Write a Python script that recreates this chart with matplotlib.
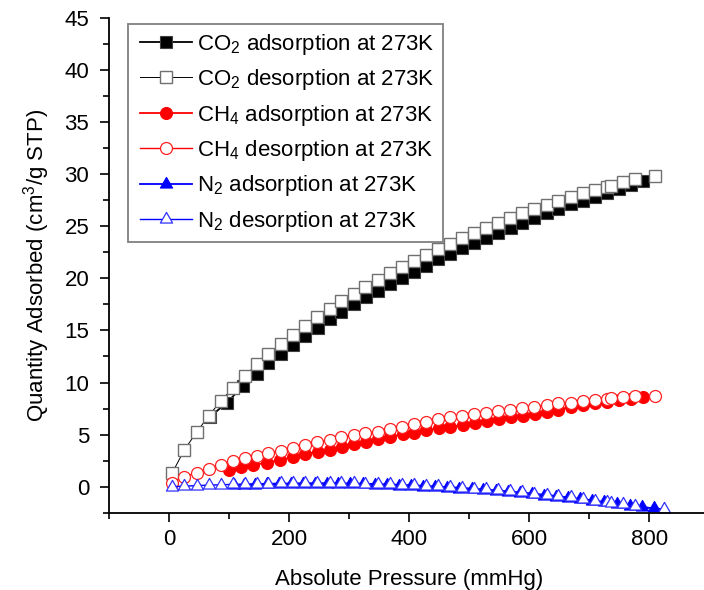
import matplotlib
matplotlib.use("Agg")
import matplotlib.pyplot as plt
from matplotlib.ticker import MultipleLocator
from matplotlib.legend_handler import HandlerLine2D
from matplotlib.path import Path

plt.rcParams['font.family'] = ['Liberation Sans', 'DejaVu Sans']
plt.rcParams['mathtext.fontset'] = 'custom'
plt.rcParams['mathtext.rm'] = 'Liberation Sans'
plt.rcParams['mathtext.it'] = 'Liberation Sans:italic'
plt.rcParams['mathtext.bf'] = 'Liberation Sans:bold'

# ---------------- data ----------------
x_des = [5, 25, 46, 66, 86, 106, 126, 146, 165, 186, 206, 226, 246, 267, 286,
         307, 326, 348, 368, 387, 408, 428, 447, 468, 487, 508, 527, 548, 568,
         588, 608, 629, 648, 669, 690, 709, 729, 736, 756, 776, 810]
co2_des = [1.34, 3.52, 5.28, 6.82, 8.26, 9.45, 10.63, 11.75, 12.74, 13.70, 14.57,
           15.46, 16.32, 17.09, 17.83, 18.50, 19.20, 19.85, 20.49, 21.13, 21.70,
           22.25, 22.79, 23.27, 23.85, 24.33, 24.81, 25.29, 25.77, 26.25, 26.63,
           27.05, 27.46, 27.85, 28.20, 28.50, 28.81, 28.90, 29.23, 29.52, 29.84]

x_co2_ads = [68, 96, 123, 146, 165, 186, 206, 226, 247, 267, 286, 307, 328, 347,
             368, 387, 408, 428, 447, 468, 488, 508, 527, 548, 569, 588, 608, 629,
             648, 669, 690, 709, 729, 750, 770, 790]
co2_ads = [6.72, 8.07, 9.67, 10.82, 11.85, 12.74, 13.60, 14.47, 15.26, 16.07, 16.80,
           17.54, 18.24, 18.82, 19.43, 20.07, 20.64, 21.22, 21.86, 22.34, 22.89,
           23.37, 23.91, 24.39, 24.87, 25.35, 25.77, 26.25, 26.63, 27.11, 27.43,
           27.79, 28.23, 28.55, 28.97, 29.38]

ch4_des = [0.38, 0.96, 1.34, 1.70, 2.08, 2.47, 2.73, 2.95, 3.26, 3.46, 3.70, 4.00,
           4.32, 4.48, 4.80, 4.96, 5.13, 5.28, 5.51, 5.76, 6.05, 6.24, 6.50, 6.66,
           6.79, 6.95, 7.10, 7.27, 7.36, 7.53, 7.68, 7.88, 8.00, 8.07, 8.23, 8.32,
           8.42, 8.49, 8.64, 8.71, 8.74]

x_ch4_ads = [100, 119, 140, 162, 184, 206, 226, 247, 268, 287, 308, 328, 348, 368,
             389, 408, 428, 449, 468, 489, 509, 529, 550, 569, 590, 609, 629, 648,
             669, 690, 709, 729, 750, 770, 790]
ch4_ads = [1.60, 1.86, 2.08, 2.30, 2.56, 2.82, 3.14, 3.36, 3.52, 3.84, 4.10, 4.32,
           4.55, 4.80, 5.03, 5.20, 5.44, 5.61, 5.76, 5.92, 6.14, 6.34, 6.47, 6.66,
           6.79, 6.98, 7.15, 7.40, 7.65, 7.85, 8.00, 8.16, 8.28, 8.42, 8.58]

x_n2_des = [5, 25, 46, 66, 86, 106, 126, 146, 165, 186, 206, 226, 246, 267, 286,
            307, 326, 348, 368, 387, 408, 428, 447, 468, 487, 508, 527, 548, 568,
            588, 608, 629, 648, 669, 690, 709, 729, 736, 756, 776, 824]
n2_des = [0.00, 0.05, 0.10, 0.15, 0.18, 0.22, 0.25, 0.28, 0.30, 0.32, 0.33, 0.35,
          0.35, 0.35, 0.34, 0.32, 0.30, 0.27, 0.23, 0.19, 0.14, 0.09, 0.03, -0.03,
          -0.10, -0.18, -0.26, -0.35, -0.45, -0.55, -0.66, -0.78, -0.90, -1.04,
          -1.18, -1.33, -1.48, -1.53, -1.70, -1.88, -2.15]

x_n2_ads = [107, 124, 143, 162, 182, 202, 222, 242, 262, 281, 301, 322, 342, 362,
            383, 403, 423, 443, 462, 483, 504, 523, 544, 564, 584, 605, 624, 644,
            665, 684, 705, 725, 746, 767, 787, 807]
n2_ads = [0.15, 0.18, 0.20, 0.22, 0.24, 0.26, 0.27, 0.27, 0.27, 0.26, 0.25, 0.22,
          0.19, 0.15, 0.10, 0.05, 0.00, -0.06, -0.12, -0.19, -0.27, -0.35, -0.44,
          -0.53, -0.63, -0.74, -0.85, -0.97, -1.10, -1.23, -1.37, -1.52, -1.67,
          -1.83, -1.97, -2.08]

labels = ["CO$_2$ adsorption at 273K", "CO$_2$ desorption at 273K",
          "CH$_4$ adsorption at 273K", "CH$_4$ desorption at 273K",
          "N$_2$ adsorption at 273K", "N$_2$ desorption at 273K"]

# triangle marker with the data point at its centroid (Origin style)
tri = Path([(0, 0.667), (-0.575, -0.333), (0.575, -0.333), (0, 0.667)],
           [Path.MOVETO, Path.LINETO, Path.LINETO, Path.CLOSEPOLY])

# ---------------- figure ----------------
W, H = 704, 590
fig = plt.figure(figsize=(W / 100, H / 100), dpi=100)
ax = fig.add_axes([109.3 / W, 77.3 / H, 600 / W, 494.7 / H])

ms_sq, ms_c, ms_t = 8.2, 8.6, 10.2
lines = []
lines += ax.plot(x_co2_ads, co2_ads, '-', color='black', lw=1.3, marker='s', ms=ms_sq,
                 mfc='black', mec='#404040', mew=0.8, label=labels[0])
lines += ax.plot(x_des, co2_des, '-', color='black', lw=0.7, marker='s', ms=ms_sq,
                 mfc='white', mec='#707070', mew=1.0, label=labels[1])
lines += ax.plot(x_ch4_ads, ch4_ads, '-', color='#ff0000', lw=1.3, marker='o', ms=ms_c,
                 mfc='#ff0000', mec='#ff0000', mew=0.8, label=labels[2])
lines += ax.plot(x_des, ch4_des, '-', color='#ff0000', lw=1.0, marker='o', ms=ms_c,
                 mfc='white', mec='#ff2020', mew=0.9, label=labels[3])
lines += ax.plot(x_n2_ads, n2_ads, '-', color='#0000ff', lw=1.3, marker=tri, ms=ms_t,
                 mfc='#0000ff', mec='#0000ff', mew=0.8, label=labels[4], clip_on=False)
lines += ax.plot(x_n2_des, n2_des, '-', color='#0000ff', lw=1.0, marker=tri, ms=ms_t,
                 mfc='white', mec='#3030ff', mew=0.9, label=labels[5], clip_on=False)

ax.set_xlim(-100, 900)
ax.set_ylim(-2.5, 45)
ax.xaxis.set_major_locator(MultipleLocator(200))
ax.xaxis.set_minor_locator(MultipleLocator(100))
ax.yaxis.set_major_locator(MultipleLocator(5))
ax.yaxis.set_minor_locator(MultipleLocator(2.5))
for s in ['top', 'right']:
    ax.spines[s].set_visible(False)
for s in ['left', 'bottom']:
    ax.spines[s].set_linewidth(1.3)
ax.tick_params(which='major', direction='out', length=6.5, width=1.2, labelsize=16)
ax.tick_params(which='minor', direction='out', length=4.5, width=1.2)
ax.tick_params(axis='x', which='major', pad=5)
ax.tick_params(axis='y', which='major', pad=8)
ax.set_xlabel("Absolute Pressure (mmHg)", fontsize=16, labelpad=14)
ax.set_ylabel("Quantity Adsorbed (cm$^3$/g STP)", fontsize=16, labelpad=9)

fs = 16
leg = ax.legend(handles=lines, loc='upper left', bbox_to_anchor=(0.031, 0.988),
                borderaxespad=0, fontsize=fs, numpoints=1, frameon=True,
                fancybox=False, edgecolor='#808080', framealpha=1,
                borderpad=0.35, labelspacing=0.47, handlelength=2.52,
                handletextpad=0.25,
                handler_map={l: HandlerLine2D(xpad=0.18) for l in lines})
leg.get_frame().set_linewidth(1.3)

fig.savefig("out.png", dpi=100)
